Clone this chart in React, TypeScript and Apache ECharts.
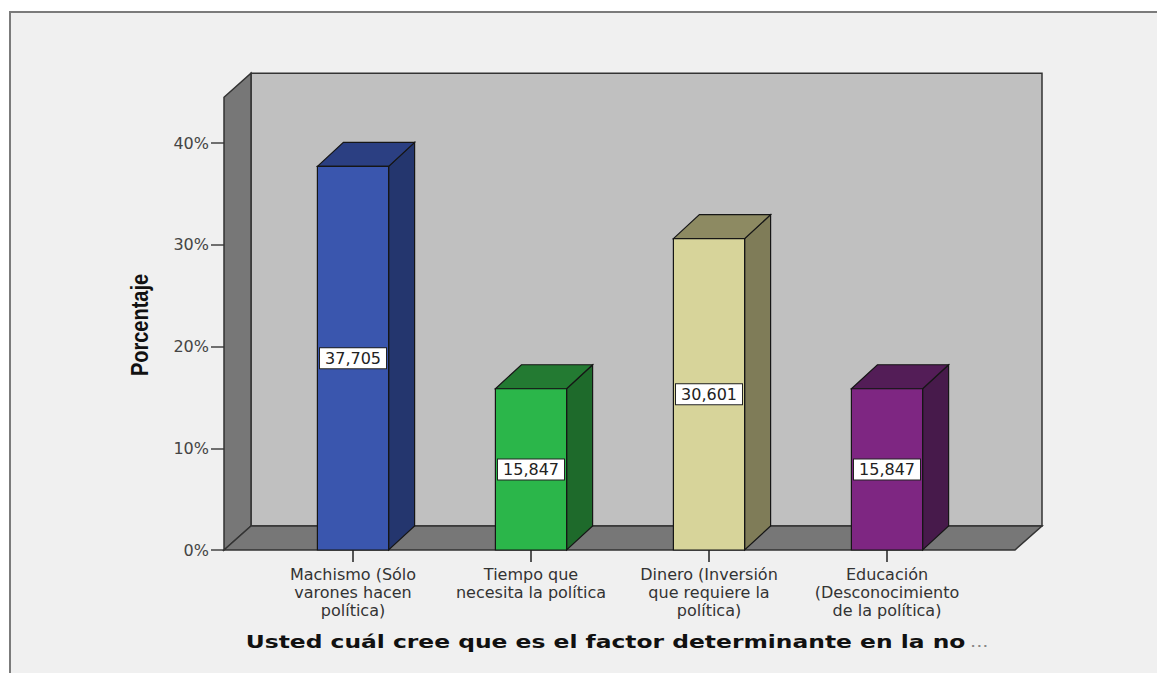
import React, { useEffect, useRef } from "react";
import * as echarts from "echarts";

const categories = [
  "Machismo (Sólo\nvarones hacen\npolítica)",
  "Tiempo que\nnecesita la política",
  "Dinero (Inversión\nque requiere la\npolítica)",
  "Educación\n(Desconocimiento\nde la política)",
];
const values = [37.705, 15.847, 30.601, 15.847];
const frontColors = ["#3a56ae", "#2bb64a", "#d7d49a", "#7e2682"];
const topColors = ["#2b3f82", "#237a32", "#8d8a62", "#531d57"];
const sideColors = ["#24366e", "#1e6a2b", "#7f7c58", "#471a4b"];
const yTicks = [0, 10, 20, 30, 40];
const wallTop = 44.5;
const yTitle = "Porcentaje";
const xTitle = "Usted cuál cree que es el factor determinante en la no";

const fmt = (v: number) => v.toFixed(3).replace(".", ",");

export default function App() {
  const ref = useRef<HTMLDivElement>(null);
  useEffect(() => {
    if (!ref.current) return;
    const chart = echarts.init(ref.current, undefined, { renderer: "svg" });
    const WD = 27, WDY = -24; // wall depth
    const BD = 26, BDY = -24; // bar depth
    const option: any = {
      animation: false,
      grid: { left: 264, right: 181, top: 143, bottom: 123 },
      xAxis: {
        type: "category",
        data: categories,
        axisLine: { show: false },
        axisTick: { show: true, alignWithLabel: true, length: 12, lineStyle: { color: "#555", width: 2 } },
        axisLabel: {
          interval: 0,
          margin: 15,
          fontFamily: "DejaVu Sans",
          fontSize: 16,
          lineHeight: 18,
          color: "#333",
        },
      },
      yAxis: {
        type: "value",
        min: yTicks[0],
        max: yTicks[yTicks.length - 1],
        interval: 10,
        offset: 40,
        splitLine: { show: false },
        axisLine: { show: false },
        axisTick: { show: true, length: 13, lineStyle: { color: "#444", width: 1.5 } },
        axisLabel: {
          margin: 15,
          formatter: "{value}%",
          fontFamily: "DejaVu Sans",
          fontSize: 16,
          color: "#444",
        },
      },
      graphic: [
        {
          type: "rect",
          z: -10,
          shape: { x: 10, y: 12, width: 1200, height: 700 },
          style: { fill: "#f0f0f0", stroke: "#7b7b7b", lineWidth: 2 },
        },
        {
          type: "text",
          x: 140,
          y: 325,
          rotation: Math.PI / 2,
          scaleY: 1.2,
          style: {
            text: yTitle,
            font: 'bold 20px "Liberation Sans"',
            fill: "#111",
            align: "center",
            verticalAlign: "middle",
          },
        },
        {
          type: "text",
          x: 617,
          y: 642,
          scaleX: 1.3,
          style: {
            text: "{a|" + xTitle + "} {b|...}",
            align: "center",
            verticalAlign: "middle",
            rich: {
              a: { font: 'bold 18px "DejaVu Sans"', fill: "#111" },
              b: { font: '15px "DejaVu Sans"', fill: "#888" },
            },
          },
        },
      ],
      series: [
        {
          type: "custom",
          clip: false,
          z: 1,
          data: [[0, 0]],
          renderItem: (params: any, api: any) => {
            const cs = params.coordSys;
            const xl = cs.x - 40;
            const xr = cs.x + cs.width + 39;
            const yb = api.coord([0, 0])[1];
            const yt = api.coord([0, wallTop])[1];
            const stroke = "#333";
            return {
              type: "group",
              children: [
                {
                  type: "rect",
                  shape: { x: xl + WD, y: yt + WDY, width: xr - xl, height: yb - yt },
                  style: { fill: "#c0c0c0", stroke, lineWidth: 1.5 },
                },
                {
                  type: "polygon",
                  shape: { points: [[xl, yt], [xl + WD, yt + WDY], [xl + WD, yb + WDY], [xl, yb]] },
                  style: { fill: "#777777", stroke, lineWidth: 1.5 },
                },
                {
                  type: "polygon",
                  shape: { points: [[xl, yb], [xl + WD, yb + WDY], [xr + WD, yb + WDY], [xr, yb]] },
                  style: { fill: "#777777", stroke, lineWidth: 1.5 },
                },
              ],
            };
          },
        },
        {
          type: "custom",
          clip: false,
          z: 3,
          encode: { x: 0, y: 1 },
          data: values.map((v, i) => [i, v]),
          renderItem: (params: any, api: any) => {
            const i = params.dataIndex;
            const v = api.value(1);
            const [cx, yt] = api.coord([api.value(0), v]);
            const yb = api.coord([api.value(0), 0])[1];
            const w = api.size([1, 0])[0] * 0.4;
            const x0 = cx - w / 2;
            const x1 = x0 + w;
            const stroke = "#161616";
            return {
              type: "group",
              children: [
                {
                  type: "polygon",
                  shape: { points: [[x1, yt], [x1 + BD, yt + BDY], [x1 + BD, yb + BDY], [x1, yb]] },
                  style: { fill: sideColors[i], stroke, lineWidth: 1.2 },
                },
                {
                  type: "polygon",
                  shape: { points: [[x0, yt], [x0 + BD, yt + BDY], [x1 + BD, yt + BDY], [x1, yt]] },
                  style: { fill: topColors[i], stroke, lineWidth: 1.2 },
                },
                {
                  type: "rect",
                  shape: { x: x0, y: yt, width: w, height: yb - yt },
                  style: { fill: frontColors[i], stroke, lineWidth: 1.2 },
                },
                {
                  type: "text",
                  x: cx,
                  y: (yt + yb) / 2,
                  style: {
                    text: fmt(values[i]),
                    font: '16px "DejaVu Sans"',
                    fill: "#222",
                    align: "center",
                    verticalAlign: "middle",
                    backgroundColor: "#ffffff",
                    borderColor: "#222",
                    borderWidth: 1,
                    padding: [2, 5],
                  },
                },
              ],
            };
          },
        },
      ],
    };
    chart.setOption(option);
    return () => chart.dispose();
  }, []);
  return (
    <div
      ref={ref}
      style={{ position: "fixed", left: 0, top: 0, width: 1157, height: 673, background: "#fff" }}
    />
  );
}
